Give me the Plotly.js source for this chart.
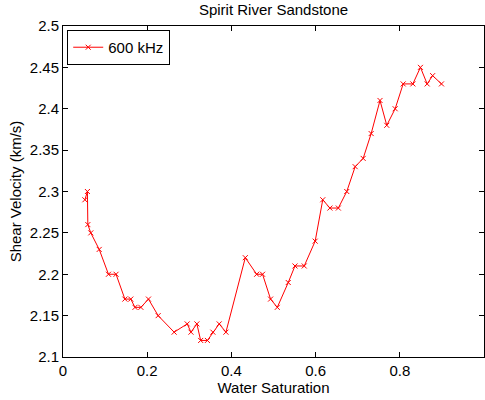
<!DOCTYPE html>
<html>
<head>
<meta charset="utf-8">
<script src="https://cdn.plot.ly/plotly-3.0.1.min.js"></script>
<style>html,body{margin:0;padding:0;background:#fff;}#chart{width:485px;height:400px;}</style>
</head>
<body>
<div id="chart"></div>
<script>
const waterSaturation = [0.052, 0.058, 0.059, 0.066, 0.086, 0.108, 0.126, 0.147, 0.161, 0.171, 0.185, 0.203, 0.226, 0.264, 0.295, 0.304, 0.318, 0.327, 0.343, 0.356, 0.371, 0.387, 0.433, 0.460, 0.474, 0.493, 0.509, 0.535, 0.551, 0.573, 0.599, 0.617, 0.634, 0.654, 0.674, 0.694, 0.713, 0.732, 0.753, 0.769, 0.789, 0.808, 0.831, 0.849, 0.865, 0.878, 0.899];
const shearVelocity = [2.29, 2.30, 2.26, 2.25, 2.23, 2.20, 2.20, 2.17, 2.17, 2.16, 2.16, 2.17, 2.15, 2.13, 2.14, 2.13, 2.14, 2.12, 2.12, 2.13, 2.14, 2.13, 2.22, 2.20, 2.20, 2.17, 2.16, 2.19, 2.21, 2.21, 2.24, 2.29, 2.28, 2.28, 2.30, 2.33, 2.34, 2.37, 2.41, 2.38, 2.40, 2.43, 2.43, 2.45, 2.43, 2.44, 2.43];
const xTickVals = [0, 0.2, 0.4, 0.6, 0.8, 1];
const xTickText = ["0", "0.2", "0.4", "0.6", "0.8", "1"];
const yTickVals = [2.1, 2.15, 2.2, 2.25, 2.3, 2.35, 2.4, 2.45, 2.5];
const yTickText = ["2.1", "2.15", "2.2", "2.25", "2.3", "2.35", "2.4", "2.45", "2.5"];
const seriesName = "600 kHz";

const font = "Liberation Sans, Arial, Helvetica, sans-serif";
const trace = {
  x: waterSaturation, y: shearVelocity, type: "scatter", mode: "lines+markers",
  name: seriesName,
  line: {color: "#ff0000", width: 1},
  marker: {symbol: "x-thin-open", size: 5, color: "#ff0000", line: {color: "#ff0000", width: 1}}
};
const axisCommon = {
  showgrid: false, zeroline: false, showline: true, linecolor: "#000", linewidth: 1,
  mirror: "ticks", ticks: "inside", ticklen: 5, tickcolor: "#000", tickwidth: 1,
  tickfont: {family: font, size: 15, color: "#000"}
};
const layout = {
  width: 485, height: 400,
  margin: {l: 63, r: 1, t: 26, b: 43},
  paper_bgcolor: "#fff", plot_bgcolor: "#fff",
  title: {text: "Spirit River Sandstone", font: {family: font, size: 15, color: "#000"}, x: 0.564, xanchor: "center", y: 0.975, yanchor: "middle"},
  xaxis: Object.assign({}, axisCommon, {range: [0, 1], tickvals: xTickVals, ticktext: xTickText,
    title: {text: "Water Saturation", font: {family: font, size: 15, color: "#000"}, standoff: 1}}),
  yaxis: Object.assign({}, axisCommon, {range: [2.1, 2.5], tickvals: yTickVals, ticktext: yTickText,
    title: {text: "Shear Velocity (km/s)", font: {family: font, size: 15, color: "#000"}, standoff: 4}}),
  showlegend: true,
  legend: {x: 0.01, y: 0.988, xanchor: "left", yanchor: "top", bordercolor: "#000", borderwidth: 1, bgcolor: "#fff",
    font: {family: font, size: 15, color: "#000"}, itemwidth: 30}
};
Plotly.newPlot("chart", [trace], layout, {displayModeBar: false, staticPlot: true});
</script>
</body>
</html>
